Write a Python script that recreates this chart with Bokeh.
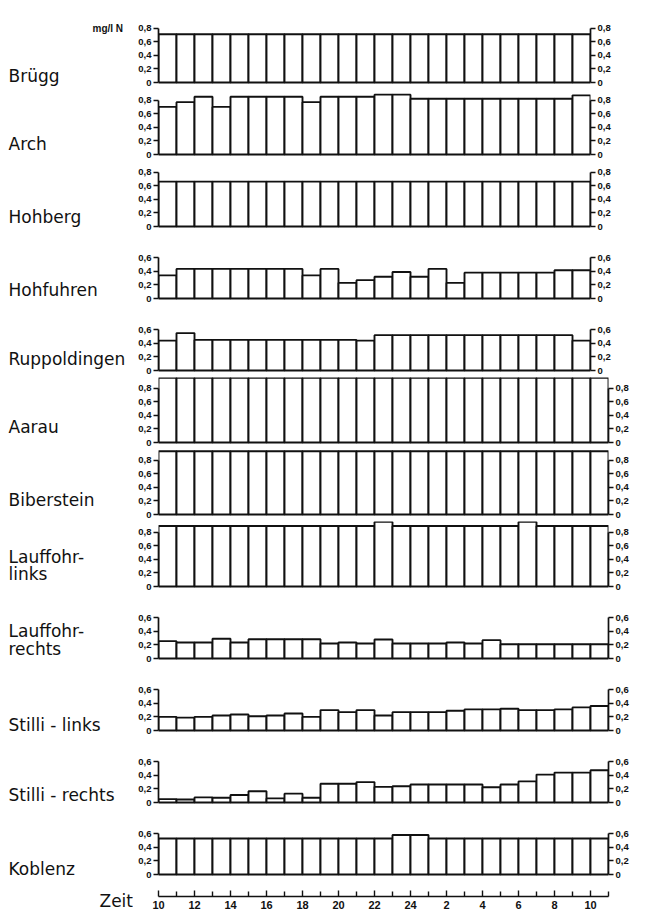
from bokeh.plotting import figure
from bokeh.models import Range1d, LinearAxis, FixedTicker, CustomJSTickFormatter
from bokeh.layouts import column, row
from bokeh.core.properties import value
from bokeh.embed import file_html
from bokeh.resources import INLINE

# ---------------- data (mg/l N, hourly) ----------------
HOURS = [10, 11, 12, 13, 14, 15, 16, 17, 18, 19, 20, 21, 22, 23, 24,
         25, 26, 27, 28, 29, 30, 31, 32, 33, 34]

brugg = [0.71, 0.71, 0.71, 0.71, 0.71, 0.71, 0.71, 0.71, 0.71, 0.71, 0.71, 0.71,
         0.71, 0.71, 0.71, 0.71, 0.71, 0.71, 0.71, 0.71, 0.71, 0.71, 0.71, 0.71]
arch = [0.70, 0.77, 0.85, 0.70, 0.85, 0.85, 0.85, 0.85, 0.77, 0.85, 0.85, 0.85,
        0.88, 0.88, 0.82, 0.82, 0.82, 0.82, 0.82, 0.82, 0.82, 0.82, 0.82, 0.87]
hohberg = [0.66, 0.66, 0.66, 0.66, 0.66, 0.66, 0.66, 0.66, 0.66, 0.66, 0.66, 0.66,
           0.66, 0.66, 0.66, 0.66, 0.66, 0.66, 0.66, 0.66, 0.66, 0.66, 0.66, 0.66]
hohfuhren = [0.34, 0.435, 0.435, 0.435, 0.435, 0.435, 0.435, 0.435, 0.34, 0.435, 0.23, 0.27,
             0.32, 0.39, 0.32, 0.435, 0.23, 0.38, 0.38, 0.38, 0.38, 0.38, 0.415, 0.415]
ruppoldingen = [0.44, 0.55, 0.45, 0.45, 0.45, 0.45, 0.45, 0.45, 0.45, 0.45, 0.45, 0.44,
                0.52, 0.52, 0.52, 0.52, 0.52, 0.52, 0.52, 0.52, 0.52, 0.52, 0.52, 0.44]
aarau = [0.95, 0.95, 0.95, 0.95, 0.95, 0.95, 0.95, 0.95, 0.95, 0.95, 0.95, 0.95, 0.95,
         0.95, 0.95, 0.95, 0.95, 0.95, 0.95, 0.95, 0.95, 0.95, 0.95, 0.95, 0.95]
biberstein = [0.93, 0.93, 0.93, 0.93, 0.93, 0.93, 0.93, 0.93, 0.93, 0.93, 0.93, 0.93, 0.93,
              0.93, 0.93, 0.93, 0.93, 0.93, 0.93, 0.93, 0.93, 0.93, 0.93, 0.93, 0.93]
lauffohr_links = [0.89, 0.89, 0.89, 0.89, 0.89, 0.89, 0.89, 0.89, 0.89, 0.89, 0.89, 0.89, 0.95,
                  0.89, 0.89, 0.89, 0.89, 0.89, 0.89, 0.89, 0.95, 0.89, 0.89, 0.89, 0.89]
lauffohr_rechts = [0.255, 0.236, 0.236, 0.29, 0.236, 0.283, 0.283, 0.283, 0.283, 0.22, 0.236, 0.22, 0.28,
                   0.22, 0.22, 0.22, 0.236, 0.22, 0.27, 0.21, 0.21, 0.21, 0.21, 0.21, 0.21]
stilli_links = [0.20, 0.19, 0.20, 0.22, 0.235, 0.21, 0.22, 0.25, 0.20, 0.30, 0.27, 0.30, 0.22,
                0.27, 0.27, 0.27, 0.29, 0.31, 0.31, 0.32, 0.30, 0.30, 0.31, 0.34, 0.36]
stilli_rechts = [0.05, 0.045, 0.075, 0.07, 0.11, 0.165, 0.06, 0.13, 0.07, 0.275, 0.275, 0.30, 0.23,
                 0.24, 0.265, 0.265, 0.265, 0.265, 0.225, 0.265, 0.31, 0.41, 0.44, 0.44, 0.475]
koblenz = [0.53, 0.53, 0.53, 0.53, 0.53, 0.53, 0.53, 0.53, 0.53, 0.53, 0.53, 0.53, 0.53,
           0.58, 0.58, 0.53, 0.53, 0.53, 0.53, 0.53, 0.53, 0.53, 0.53, 0.53, 0.53]

STATION_NAMES = [["Brügg"], ["Arch"], ["Hohberg"], ["Hohfuhren"], ["Ruppoldingen"],
                 ["Aarau"], ["Biberstein"], ["Lauffohr-", "links"], ["Lauffohr-", "rechts"],
                 ["Stilli - links"], ["Stilli - rechts"], ["Koblenz"]]
SERIES = [brugg, arch, hohberg, hohfuhren, ruppoldingen, aarau, biberstein,
          lauffohr_links, lauffohr_rechts, stilli_links, stilli_rechts, koblenz]
AXIS_TOP = [0.8, 0.8, 0.8, 0.6, 0.6, 0.8, 0.8, 0.8, 0.6, 0.6, 0.6, 0.6]
Y_TICKS_06 = [0, 0.2, 0.4, 0.6]
Y_TICKS_08 = [0, 0.2, 0.4, 0.6, 0.8]
X_MAJOR = [10, 12, 14, 16, 18, 20, 22, 24, 26, 28, 30, 32, 34]
X_MINOR = [11, 13, 15, 17, 19, 21, 23, 25, 27, 29, 31, 33, 35]
UNIT_LABEL = "mg/l N"
TIME_LABEL = "Zeit"

# ---------------- layout / style ----------------
HOUR_PX = 18
NAMES_W = 133          # column holding the station names
AX_LEFT = 25           # room for left tick labels
RIGHT = 34
PANEL_H = 72
SCALE = 68.0           # px per mg/l
D = 7                  # px from frame bottom to the zero line
FIRST_TOP = 17
ZEIT_H = 30
TOTAL_H = FIRST_TOP + 12 * PANEL_H + ZEIT_H
LABEL_ABOVE = [[7], [11], [10], [9], [12], [16], [15], [30, 13], [28, 10], [6], [8], [6]]
NAME_FONT = "DejaVu Sans"
TICK_FONT = "Liberation Sans"
INK = "#111111"

yfmt = "return tick == 0 ? '0' : tick.toFixed(1).replace('.', ',');"


def make_panel(idx, values, top_tick):
    n = len(values)
    frame_w = n * HOUR_PX
    extra_top = FIRST_TOP if idx == 0 else 0
    p = figure(width=AX_LEFT + frame_w + RIGHT, height=PANEL_H + extra_top,
               output_backend="svg", toolbar_location=None,
               x_range=Range1d(HOURS[0], HOURS[0] + n),
               y_range=Range1d(-D / SCALE, (PANEL_H - D) / SCALE),
               min_border_left=AX_LEFT, min_border_right=RIGHT,
               min_border_top=extra_top, min_border_bottom=0,
               x_axis_location=None, y_axis_location=None)
    p.outline_line_color = None
    p.background_fill_color = "white"
    p.border_fill_color = "white"
    p.grid.grid_line_color = None
    hrs = HOURS[:n]
    p.quad(left=hrs, right=[h + 1 for h in hrs], bottom=0, top=values,
           fill_color="white", line_color=INK, line_width=1.9)
    ticks = Y_TICKS_08 if top_tick > 0.7 else Y_TICKS_06
    for side in ("left", "right"):
        ax = LinearAxis(ticker=FixedTicker(ticks=ticks, minor_ticks=[]),
                        formatter=CustomJSTickFormatter(code=yfmt),
                        bounds=(0, top_tick))
        ax.axis_line_width = 1.7
        ax.axis_line_color = INK
        ax.major_tick_line_width = 1.4
        ax.major_tick_line_color = INK
        ax.major_tick_out = 5
        ax.major_tick_in = 0
        ax.minor_tick_out = 0
        ax.minor_tick_in = 0
        ax.major_label_standoff = 2
        ax.major_label_text_font = TICK_FONT
        ax.major_label_text_font_size = "9.5px"
        ax.major_label_text_font_style = "bold"
        ax.major_label_text_color = INK
        p.add_layout(ax, side)
    return p


panels = [make_panel(i, vals, top) for i, (vals, top) in enumerate(zip(SERIES, AXIS_TOP))]

# time axis strip
pz = figure(width=AX_LEFT + len(HOURS) * HOUR_PX + RIGHT, height=ZEIT_H,
            output_backend="svg", toolbar_location=None,
            x_range=Range1d(HOURS[0], HOURS[-1] + 1), y_range=Range1d(0, 1),
            min_border_left=AX_LEFT, min_border_right=RIGHT,
            min_border_top=0, min_border_bottom=0,
            x_axis_location=None, y_axis_location=None)
pz.outline_line_color = None
pz.grid.grid_line_color = None
xa = LinearAxis(ticker=FixedTicker(ticks=X_MAJOR, minor_ticks=X_MINOR),
                formatter=CustomJSTickFormatter(code="const h = tick % 24; return String(h == 0 ? 24 : h);"))
xa.axis_line_width = 1.7
xa.axis_line_color = INK
xa.major_tick_in = 6
xa.major_tick_out = 0
xa.minor_tick_in = 5
xa.minor_tick_out = 0
xa.major_tick_line_width = 1.4
xa.minor_tick_line_width = 1.4
xa.major_tick_line_color = INK
xa.minor_tick_line_color = INK
xa.major_label_standoff = 4
xa.major_label_text_font = TICK_FONT
xa.major_label_text_font_size = "11px"
xa.major_label_text_font_style = "bold"
xa.major_label_text_color = INK
pz.add_layout(xa, "below")

# names column (pixel coordinates, y downwards)
pn = figure(width=NAMES_W, height=TOTAL_H, output_backend="svg", toolbar_location=None,
            x_range=Range1d(0, NAMES_W), y_range=Range1d(TOTAL_H, 0),
            min_border=0, x_axis_location=None, y_axis_location=None)
pn.outline_line_color = None
pn.grid.grid_line_color = None
nx, ny, nt = [], [], []
for k, (lines, aboves) in enumerate(zip(STATION_NAMES, LABEL_ABOVE)):
    base = FIRST_TOP + PANEL_H * (k + 1) - D
    for line, ab in zip(lines, aboves):
        nx.append(8)
        ny.append(base - ab)
        nt.append(line)
pn.text(x=nx, y=ny, text=nt, text_font=value(NAME_FONT), text_font_size=value("17px"),
        text_baseline="middle", text_align="left", text_color=INK)
pn.text(x=[NAMES_W - 41], y=[28], text=[UNIT_LABEL], text_font=value(TICK_FONT),
        text_font_size=value("10px"), text_font_style="bold", text_baseline="middle",
        text_align="left", text_color=INK)
pn.text(x=[NAMES_W - 34], y=[TOTAL_H - 11], text=[TIME_LABEL], text_font=value(NAME_FONT),
        text_font_size=value("17px"), text_baseline="middle", text_align="left", text_color=INK)

layout = row(pn, column(*panels, pz, spacing=0), spacing=0)
open("out.html", "w").write(file_html(layout, INLINE))
